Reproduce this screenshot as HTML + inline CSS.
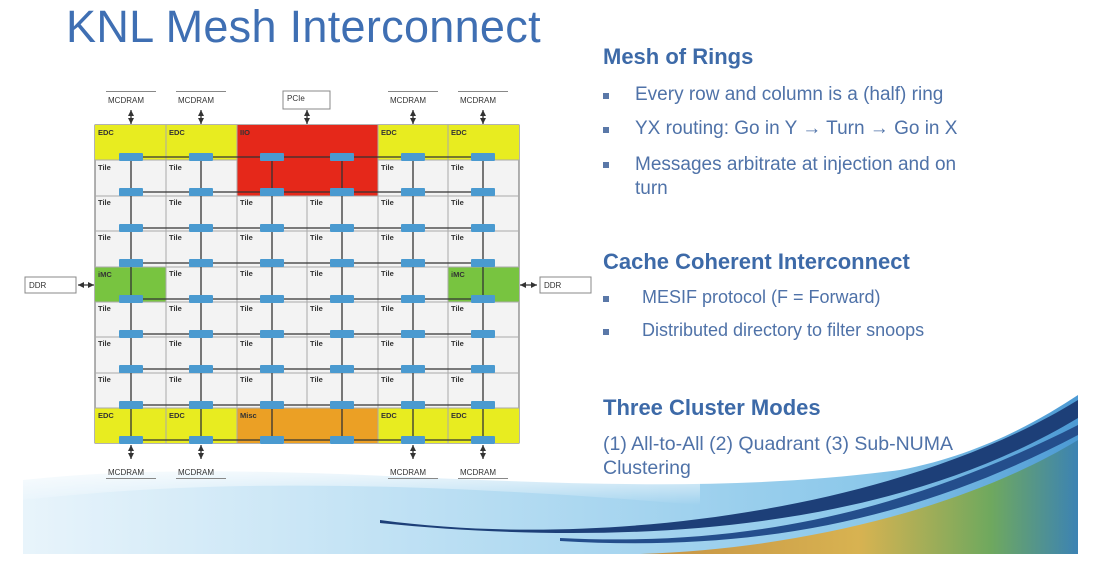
<!DOCTYPE html><html><head><style>
body{margin:0;width:1102px;height:579px;background:#fff;overflow:hidden;position:relative;font-family:"Liberation Sans",sans-serif}
.t{position:absolute;white-space:nowrap}
h1{position:absolute;left:66px;top:1px;margin:0;font-weight:normal;font-size:45px;letter-spacing:0.3px;color:#3f6fb3}
.h{font-weight:bold;font-size:22px;color:#3d6aa8;left:603px}
.b{font-size:19px;color:#4f72a8;left:635px}
.sq{position:absolute;left:603px;width:6px;height:6px;background:#5a78a8}
</style></head><body>
<svg width="1102" height="579" style="position:absolute;left:0;top:0">
<defs>
<linearGradient id="w" x1="0" y1="0" x2="1" y2="0"><stop offset="0" stop-color="#e8f4fb"/><stop offset="0.45" stop-color="#b5dcf2"/><stop offset="0.8" stop-color="#8cc8ea"/><stop offset="1" stop-color="#4c9ad4"/></linearGradient>
<linearGradient id="v" x1="0" y1="0" x2="0" y2="1"><stop offset="0" stop-color="#fff" stop-opacity="1"/><stop offset="1" stop-color="#fff" stop-opacity="0"/></linearGradient>
<linearGradient id="w2" x1="0" y1="0" x2="1" y2="0"><stop offset="0" stop-color="#c98a30"/><stop offset="0.5" stop-color="#e0b040"/><stop offset="0.8" stop-color="#70a850"/><stop offset="1" stop-color="#3a80b0"/></linearGradient>
</defs>
<path d="M23 480 C300 450 600 510 900 470 C980 455 1040 420 1078 395 L1078 554 L23 554Z" fill="url(#w)"/>
<path d="M23 460 L700 460 L700 505 C400 480 200 480 23 500Z" fill="url(#v)"/>
<path d="M380 520 C600 550 900 510 1078 400 L1078 418 C900 525 650 550 380 523Z" fill="#1d3f78"/>
<path d="M640 554 C820 548 980 500 1078 440 L1078 554Z" fill="url(#w2)" opacity="0.9"/>
<path d="M560 538 C760 548 920 505 1078 425 L1078 435 C920 518 760 553 560 541Z" fill="#244e8c"/>
<g font-size="8" fill="#333" font-family="Liberation Sans">
<rect x="95" y="125" width="424" height="318" fill="#f3f3f3" stroke="#666"/>
<rect x="95" y="125" width="142" height="35" fill="#e8ec20"/><rect x="378" y="125" width="141" height="35" fill="#e8ec20"/>
<rect x="237" y="125" width="141" height="71" fill="#e5281a"/>
<rect x="95" y="408" width="142" height="35" fill="#e8ec20"/><rect x="378" y="408" width="141" height="35" fill="#e8ec20"/>
<rect x="237" y="408" width="141" height="35" fill="#eba025"/>
<rect x="95" y="267" width="71" height="35" fill="#78c440"/><rect x="448" y="267" width="71" height="35" fill="#78c440"/>
<g stroke="#aaa" stroke-width="1">
<path d="M166 125V443M237 125V443M307 196V408M378 125V443M448 125V443"/>
<path d="M95 160H237M378 160H519M95 196H519M95 231H519M95 267H519M95 302H519M95 337H519M95 373H519M95 408H519"/>
</g>
<g stroke="#333" stroke-width="1.3">
<path d="M131 157V440M201 157V440M272 157V440M342 157V440M413 157V440M483 157V440"/>
<path d="M131 157H483M131 192H483M131 228H483M131 263H483M131 299H483M131 334H483M131 369H483M131 405H483M131 440H483"/>
<path d="M131 110V124M201 110V124M307 110V124M413 110V124M483 110V124M131 445V459M201 445V459M413 445V459M483 445V459M78 285H94M520 285H537"/>
</g>
<g id="ar" fill="#333"></g>
<g id="r" fill="#4a9ad0"></g>
<g font-weight="bold" font-size="7.5">
<text x="98" y="135">EDC</text><text x="169" y="135">EDC</text><text x="240" y="135">IIO</text><text x="381" y="135">EDC</text><text x="451" y="135">EDC</text>
<text x="98" y="418">EDC</text><text x="169" y="418">EDC</text><text x="240" y="418">Misc</text><text x="381" y="418">EDC</text><text x="451" y="418">EDC</text>
<text x="98" y="277">iMC</text><text x="451" y="277">iMC</text>
<text x="98" y="170">Tile</text><text x="169" y="170">Tile</text><text x="381" y="170">Tile</text><text x="451" y="170">Tile</text>
</g>
<g font-size="8">
<rect x="106" y="91" width="50" height="1" fill="#888"/><text x="108" y="103">MCDRAM</text>
<rect x="176" y="91" width="50" height="1" fill="#888"/><text x="178" y="103">MCDRAM</text>
<rect x="388" y="91" width="50" height="1" fill="#888"/><text x="390" y="103">MCDRAM</text>
<rect x="458" y="91" width="50" height="1" fill="#888"/><text x="460" y="103">MCDRAM</text>
<rect x="283" y="91" width="47" height="18" fill="#fff" stroke="#888"/><text x="287" y="101">PCIe</text>
<rect x="106" y="478" width="50" height="1" fill="#888"/><text x="108" y="475">MCDRAM</text>
<rect x="176" y="478" width="50" height="1" fill="#888"/><text x="178" y="475">MCDRAM</text>
<rect x="388" y="478" width="50" height="1" fill="#888"/><text x="390" y="475">MCDRAM</text>
<rect x="458" y="478" width="50" height="1" fill="#888"/><text x="460" y="475">MCDRAM</text>
<rect x="25" y="277" width="51" height="16" fill="#fff" stroke="#888"/><text x="29" y="288">DDR</text>
<rect x="540" y="277" width="51" height="16" fill="#fff" stroke="#888"/><text x="544" y="288">DDR</text>
</g>
<g font-weight="bold" font-size="7.5" id="tiles"></g>
</g>
</svg>
<script>
var ns="http://www.w3.org/2000/svg",r=document.getElementById("r"),tl=document.getElementById("tiles"),ar=document.getElementById("ar");
function tri(p){var e=document.createElementNS(ns,"polygon");e.setAttribute("points",p);ar.appendChild(e);}
[131,201,307,413,483].forEach(function(x){tri((x-3)+",116 "+(x+3)+",116 "+x+",110");tri((x-3)+",118 "+(x+3)+",118 "+x+",124");});
[131,201,413,483].forEach(function(x){tri((x-3)+",451 "+(x+3)+",451 "+x+",445");tri((x-3)+",453 "+(x+3)+",453 "+x+",459");});
tri("78,285 84,282 84,288");tri("94,285 88,282 88,288");tri("520,285 526,282 526,288");tri("537,285 531,282 531,288");
var xs=[131,201,272,342,413,483],ys=[157,192,228,263,299,334,369,405,440];
xs.forEach(function(x){ys.forEach(function(y){var e=document.createElementNS(ns,"rect");e.setAttribute("x",x-12);e.setAttribute("y",y-4);e.setAttribute("width",24);e.setAttribute("height",8);e.setAttribute("rx",1);r.appendChild(e);});});
var cx=[98,169,240,310,381,451],ry=[205,240,311,346,382];
cx.forEach(function(x){ry.forEach(function(y){var t=document.createElementNS(ns,"text");t.setAttribute("x",x);t.setAttribute("y",y);t.textContent="Tile";tl.appendChild(t);});});
[169,240,310,381].forEach(function(x){var t=document.createElementNS(ns,"text");t.setAttribute("x",x);t.setAttribute("y",276);t.textContent="Tile";tl.appendChild(t);});
</script>
<h1>KNL Mesh Interconnect</h1>
<div class="t h" style="top:44px">Mesh of Rings</div>
<div class="sq" style="top:93px"></div><div class="t b" style="top:84px">Every row and column is a (half) ring</div>
<div class="sq" style="top:127px"></div><div class="t b" style="top:118px">YX routing: Go in Y → Turn → Go in X</div>
<div class="sq" style="top:162px"></div><div class="t b" style="top:153px;line-height:24px">Messages arbitrate at injection and on<br>turn</div>
<div class="t h" style="top:249px">Cache Coherent Interconnect</div>
<div class="sq" style="top:296px"></div><div class="t b" style="left:642px;top:287px;font-size:18px">MESIF protocol (F = Forward)</div>
<div class="sq" style="top:329px"></div><div class="t b" style="left:642px;top:320px;font-size:18px">Distributed directory to filter snoops</div>
<div class="t h" style="top:395px">Three Cluster Modes</div>
<div class="t b" style="left:603px;top:432px;font-size:19.5px;line-height:24px">(1) All-to-All (2) Quadrant (3) Sub-NUMA<br>Clustering</div>
</body></html>
